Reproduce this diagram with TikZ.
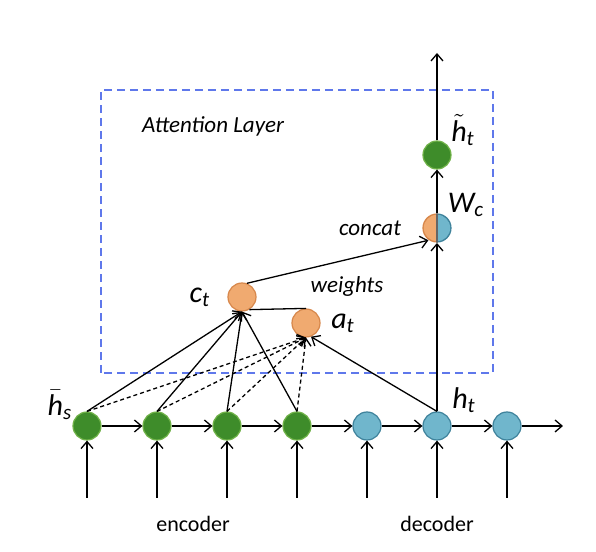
\documentclass[tikz,border=0pt]{standalone}
\usepackage{amsmath}
\usepackage{fontspec}
\setmainfont{Carlito}
\usetikzlibrary{calc, arrows.meta, positioning}
\definecolor{encoder}{RGB}{62,140,42}
\definecolor{encoderline}{RGB}{112,178,72}
\definecolor{decoder}{RGB}{112,182,204}
\definecolor{decoderline}{RGB}{62,130,155}
\definecolor{attention}{RGB}{240,170,112}
\definecolor{attentionline}{RGB}{215,135,75}
\definecolor{layer}{RGB}{95,120,235}

\begin{document}
\begin{tikzpicture}
    [
        x=1pt, y=1pt,
        node distance=35pt,auto,>={Straight Barb[length=3.5pt,width=6pt]},
        enc/.style={circle, draw=encoderline, fill=encoder, line width=0.6pt, minimum size=14pt, inner sep=0pt},
        dec/.style={circle, draw=decoderline, fill=decoder, line width=0.6pt, minimum size=14pt, inner sep=0pt},
        att/.style={circle, draw=attentionline, fill=attention, line width=0.6pt, minimum size=14pt, inner sep=0pt},
        concatbox/.style={circle, minimum size=14.6pt, inner sep=0pt, path picture={
            \fill[attentionline] (path picture bounding box.north west) rectangle (path picture bounding box.south);
            \fill[decoderline] (path picture bounding box.north) rectangle (path picture bounding box.south east);
            \fill[attention] (path picture bounding box.center) ++(90:6.6pt) arc (90:270:6.6pt) -- cycle;
            \fill[decoder] (path picture bounding box.center) ++(-90:6.6pt) arc (-90:90:6.6pt) -- cycle;
            \draw[black!60, line width=0.6pt] (path picture bounding box.north) -- (path picture bounding box.south);}},
        lbl/.style={font=\fontsize{15}{17}\selectfont},
        txt/.style={font=\fontsize{11}{13}\selectfont}
    ]
    \tikzstyle{line} = [draw, ->, line width=0.65pt]
    \tikzstyle{dashline} = [draw, ->, line width=0.65pt, dash pattern=on 2pt off 1.5pt]
    \useasboundingbox (-43.5,-63) rectangle (254.5,213);

    % Attention layer frame
    \draw[layer, line width=1pt, dash pattern=on 4pt off 2.5pt] (7,26.5) rectangle (203,168);
    \node[txt, font=\fontsize{11.5}{13}\selectfont\itshape] (layer_name) at (63,150) {Attention Layer};

    % Bottom layer: encoder and decoder states
    \node[enc] (h_enc_1) {};
    \node[enc, right of=h_enc_1] (h_enc_2) {};
    \node[enc, right of=h_enc_2] (h_enc_3) {};
    \node[enc, right of=h_enc_3] (h_enc_4) {};
    \node[dec, right of=h_enc_4] (h_dec_1) {};
    \node[dec, right of=h_dec_1] (h_dec_2) {};
    \node[dec, right of=h_dec_2] (h_dec_3) {};
    \coordinate[right of=h_dec_3, node distance=28pt] (h_out);
    \path[line] (h_enc_1) -- (h_enc_2);
    \path[line] (h_enc_2) -- (h_enc_3);
    \path[line] (h_enc_3) -- (h_enc_4);
    \path[line] (h_enc_4) -- (h_dec_1);
    \path[line] (h_dec_1) -- (h_dec_2);
    \path[line] (h_dec_2) -- (h_dec_3);
    \path[line] (h_dec_3) -- (h_out);

    % Inputs from below
    \coordinate[below of=h_enc_1, node distance=36pt] (in_enc_1);
    \coordinate[below of=h_enc_2, node distance=36pt] (in_enc_2);
    \coordinate[below of=h_enc_3, node distance=36pt] (in_enc_3);
    \coordinate[below of=h_enc_4, node distance=36pt] (in_enc_4);
    \coordinate[below of=h_dec_1, node distance=36pt] (in_dec_1);
    \coordinate[below of=h_dec_2, node distance=36pt] (in_dec_2);
    \coordinate[below of=h_dec_3, node distance=36pt] (in_dec_3);
    \path[line] (in_enc_1) -- (h_enc_1);
    \path[line] (in_enc_2) -- (h_enc_2);
    \path[line] (in_enc_3) -- (h_enc_3);
    \path[line] (in_enc_4) -- (h_enc_4);
    \path[line] (in_dec_1) -- (h_dec_1);
    \path[line] (in_dec_2) -- (h_dec_2);
    \path[line] (in_dec_3) -- (h_dec_3);
    \node[txt] (enc_name) at (53,-49) {encoder};
    \node[txt, below of=in_dec_2, node distance=13pt] (dec_name) {decoder};

    % Context vector and alignment weights
    \node[att] (c_t) at (77.5,64.5) {};
    \node[att] (a_t) at (109.5,51.5) {};
    \path[draw, line width=0.65pt] (a_t.north) -- (c_t.-60);
    \path[line] (h_enc_1.north) -- (c_t.south);
    \path[line] (h_enc_2.north) -- (c_t.south);
    \path[line] (h_enc_3.north) -- (c_t.south);
    \path[line] (h_enc_4.north) -- (c_t.south);
    \path[dashline] (h_enc_1.north) -- (a_t.south);
    \path[dashline] (h_enc_2.north) -- (a_t.south);
    \path[dashline] (h_enc_3.north) -- (a_t.south);
    \path[dashline] (h_enc_4.north) -- (a_t.south);
    \path[line] (h_dec_2.north) -- (a_t.-70);

    % Vertical path from decoder state upwards
    \node[concatbox, above of=h_dec_2, node distance=99pt] (w_c) {};
    \node[enc, above of=w_c, node distance=36.5pt] (h_tilde) {};
    \coordinate[above of=h_tilde, node distance=51pt] (h_top);
    \path[line] (h_dec_2.north) -- (w_c.south);
    \path[line] (c_t.70) -- (w_c.-125);
    \path[line] (w_c.north) -- (h_tilde.south);
    \path[line] (h_tilde.north) -- (h_top);

    % Labels
    \node[lbl] (h_s_lbl) at ($(h_enc_1)+(-13.5,10.5)$) {$\bar{\textit{h}}_{\textit{s}}$};
    \node[lbl] (h_t_lbl) at ($(h_dec_2)+(13.5,13)$) {$\textit{h}_{\textit{t}}$};
    \node[lbl, left of=c_t, node distance=21pt] (c_t_lbl) {$\textit{c}_{\textit{t}}$};
    \node[lbl, right of=a_t, node distance=18.5pt] (a_t_lbl) {$\textit{a}_{\textit{t}}$};
    \node[lbl] (w_c_lbl) at ($(w_c)+(14.5,11.5)$) {$\textit{W}_{\textit{c}}$};
    \node[lbl] (h_tilde_lbl) at ($(h_tilde)+(13,12.5)$) {$\tilde{\textit{h}}_{\textit{t}}$};
    \node[txt, font=\fontsize{11.5}{13}\selectfont\itshape] (weights_lbl) at (130,70) {weights};
    \node[txt, font=\fontsize{11.5}{13}\selectfont\itshape, left of=w_c, node distance=33.5pt] (concat_lbl) {concat};

\end{tikzpicture}
\end{document}
